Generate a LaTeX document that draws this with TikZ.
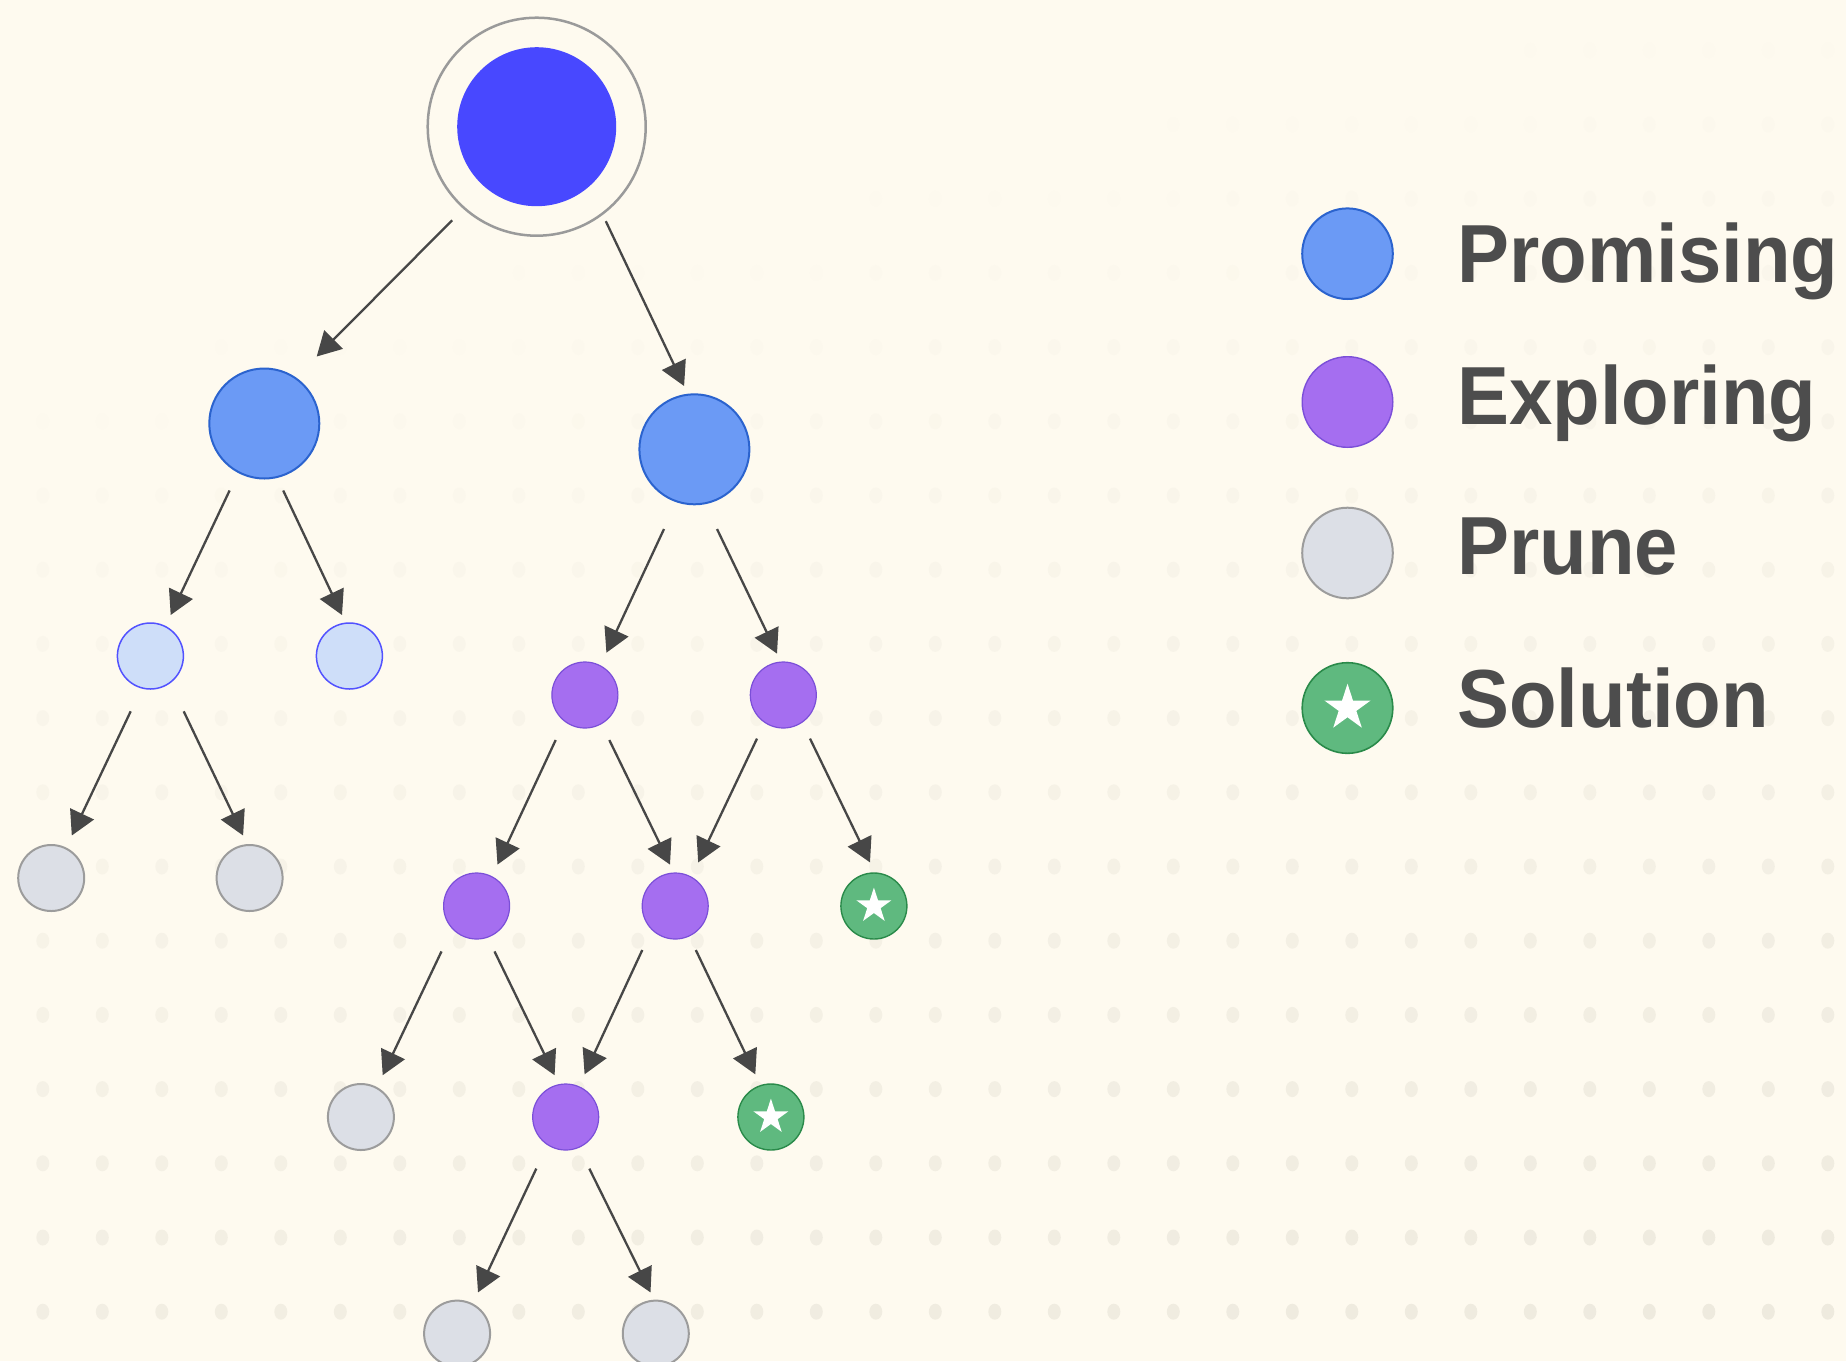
\documentclass[tikz,border=0pt]{standalone}
\usepackage{fontspec}
\newfontfamily\legfont[FakeStretch=0.945]{Liberation Sans}
\usetikzlibrary{arrows.meta,shapes.geometric,calc}
\definecolor{bgc}{HTML}{FEFAEF}
\definecolor{dotc}{HTML}{EEEADE}
\definecolor{arrc}{HTML}{474747}
\definecolor{txtc}{HTML}{4D4D4D}
\definecolor{rootc}{HTML}{4848FF}
\definecolor{ringc}{HTML}{9A9A9A}
\definecolor{promf}{HTML}{6B9AF5}
\definecolor{proms}{HTML}{2B63CE}
\definecolor{lightf}{HTML}{CEDEF9}
\definecolor{lights}{HTML}{5252FF}
\definecolor{explf}{HTML}{A56EF0}
\definecolor{expls}{HTML}{7B4FD8}
\definecolor{prunf}{HTML}{DCDFE6}
\definecolor{pruns}{HTML}{9C9C9C}
\definecolor{solf}{HTML}{5FB97F}
\definecolor{sols}{HTML}{2A8A4A}
\begin{document}
\begin{tikzpicture}[x=0.5pt,y=-0.5pt,
  rootring/.style={circle,draw=ringc,line width=1.25pt,minimum size=109pt,inner sep=0pt},
  rootcore/.style={circle,fill=rootc,minimum size=79.5pt,inner sep=0pt},
  promnode/.style={circle,fill=promf,draw=proms,line width=1pt,minimum size=55pt,inner sep=0pt},
  lightnode/.style={circle,fill=lightf,draw=lights,line width=0.75pt,minimum size=33pt,inner sep=0pt},
  explnode/.style={circle,fill=explf,draw=expls,line width=0.6pt,minimum size=33pt,inner sep=0pt},
  prunnode/.style={circle,fill=prunf,draw=pruns,line width=1pt,minimum size=33pt,inner sep=0pt},
  solnode/.style={circle,fill=solf,draw=sols,line width=0.7pt,minimum size=33pt,inner sep=0pt},
  starw/.style={star,star points=5,star point ratio=2.618,fill=white,minimum size=18.4pt,inner sep=0pt},
  legdot/.style={circle,line width=1pt,minimum size=45.3pt,inner sep=0pt},
  legtext/.style={anchor=base west,inner sep=0pt,text=txtc,font=\legfont\bfseries\fontsize{41.2}{48}\selectfont},
  arr/.style={draw=arrc,line width=1.15pt,-{Triangle[length=12pt,width=13pt]}}
]
\fill[bgc] (0,0) rectangle (1846,1361);
\useasboundingbox (0,0) rectangle (1846,1361);
% dotted background, fading towards the top
\foreach \i in {0,...,30}{
  \foreach \j in {0,...,17}{
    \pgfmathsetmacro\px{42.8+59.5*\i}
    \pgfmathsetmacro\py{50.3+74.2*\j}
    \pgfmathsetmacro\op{min(1,max(0,0.3*\px/1846+1.0*\py/1361-0.28))}
    \fill[dotc,fill opacity=\op] (\px,\py) ellipse [x radius=6.5,y radius=8];
  }
}
% tree nodes
\node[rootring] (rr) at (536.7,126.7) {};
\node[rootcore] (r) at (536.7,126.7) {};
\node[promnode] (a) at (264.3,423.5) {};
\node[promnode] (b) at (694.4,449.3) {};
\node[lightnode] (c1) at (150.4,656) {};
\node[lightnode] (c2) at (349.4,656) {};
\node[explnode] (d1) at (584.9,695) {};
\node[explnode] (d2) at (783.3,695) {};
\node[prunnode] (e1) at (51.2,878) {};
\node[prunnode] (e2) at (249.6,878) {};
\node[explnode] (f1) at (476.6,906) {};
\node[explnode] (f2) at (675.2,906) {};
\node[solnode] (f3) at (873.9,906) {};
\node[starw] (f3s) at (873.9,906) {};
\node[prunnode] (g1) at (360.9,1117) {};
\node[explnode] (g2) at (565.7,1117) {};
\node[solnode] (g3) at (770.9,1117) {};
\node[starw] (g3s) at (770.9,1117) {};
\node[prunnode] (h1) at (457.1,1333.6) {};
\node[prunnode] (h2) at (655.8,1333.6) {};
% connectors
\draw[arr] ($(r)+(-84.6,93.6)$) -- ($(a)+(52.4,-67)$);
\draw[arr] ($(r)+(69.1,94.5)$) -- ($(b)+(-10.3,-63.3)$);
\draw[arr] ($(a)+(-34.7,67)$) -- ($(c1)+(20.3,-41)$);
\draw[arr] ($(a)+(18.9,67)$) -- ($(c2)+(-7.4,-41)$);
\draw[arr] ($(b)+(-30.4,79.7)$) -- ($(d1)+(21.5,-42.3)$);
\draw[arr] ($(b)+(22.6,79.7)$) -- ($(d2)+(-6.3,-41.4)$);
\draw[arr] ($(c1)+(-19.7,55.3)$) -- ($(e1)+(20.6,-42.5)$);
\draw[arr] ($(c1)+(33.3,55.3)$) -- ($(e2)+(-6.5,-42.5)$);
\draw[arr] ($(d1)+(-29.2,45)$) -- ($(f1)+(20.9,-41.4)$);
\draw[arr] ($(d1)+(24.4,45)$) -- ($(f2)+(-5.2,-41.4)$);
\draw[arr] ($(d2)+(-26.3,43.6)$) -- ($(f2)+(23,-43.6)$);
\draw[arr] ($(d2)+(26.7,43.6)$) -- ($(f3)+(-3.9,-43.6)$);
\draw[arr] ($(f1)+(-35.1,45.4)$) -- ($(g1)+(21.8,-41.8)$);
\draw[arr] ($(f1)+(17.9,45.4)$) -- ($(g2)+(-11.1,-41.8)$);
\draw[arr] ($(f2)+(-32.9,44)$) -- ($(g2)+(18.9,-42.7)$);
\draw[arr] ($(f2)+(20.6,44)$) -- ($(g3)+(-15.6,-42.7)$);
\draw[arr] ($(g2)+(-29.4,51.6)$) -- ($(h1)+(20.9,-41.2)$);
\draw[arr] ($(g2)+(23.6,51.6)$) -- ($(h2)+(-5.3,-41.2)$);
% legend
\node[legdot,fill=promf,draw=proms] (lp) at (1347.5,253.7) {};
\node[legdot,fill=explf,draw=expls,line width=0.7pt] (le) at (1347.5,402) {};
\node[legdot,fill=prunf,draw=pruns] (lr) at (1347.5,553) {};
\node[legdot,fill=solf,draw=sols,line width=0.8pt] (ls) at (1347.5,708) {};
\node[starw,minimum size=24.3pt] (lss) at (1347.5,708) {};
\node[legtext] (tp) at (1457,282.3) {Promising};
\node[legtext] (te) at (1457,424.3) {Exploring};
\node[legtext] (tr) at (1457,574) {Prune};
\node[legtext] (ts) at (1457,727.8) {Solution};
\end{tikzpicture}
\end{document}
